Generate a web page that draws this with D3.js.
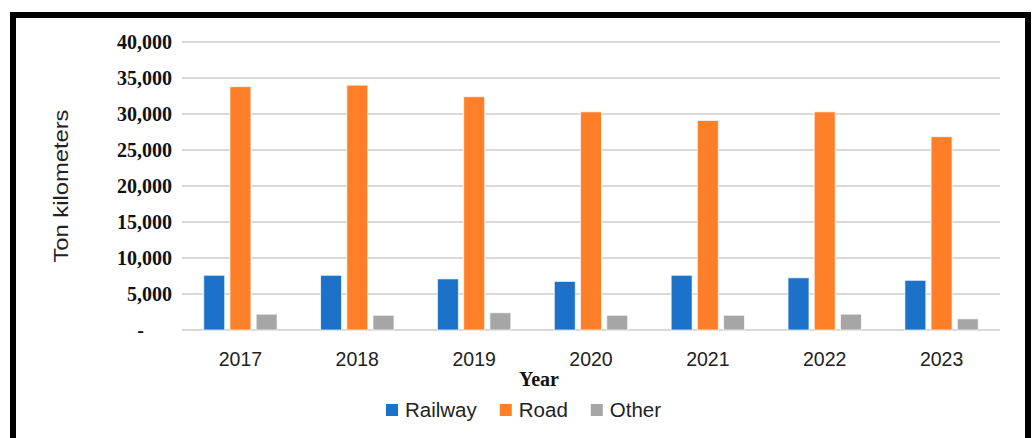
<!DOCTYPE html>
<html>
<head>
<meta charset="utf-8">
<script src="https://cdn.jsdelivr.net/npm/d3@7"></script>
<style>
  html, body { margin: 0; padding: 0; background: #fff; }
  svg { display: block; }
</style>
</head>
<body>
<svg id="chart" width="1033" height="438"></svg>
<script>
// Freight transport volume by mode, ton kilometers
const years   = ["2017", "2018", "2019", "2020", "2021", "2022", "2023"];
const series  = ["Railway", "Road", "Other"];
const railway = [7600, 7600, 7100, 6750, 7600, 7250, 6900];
const road    = [33800, 34000, 32400, 30300, 29100, 30300, 26850];
const other   = [2200, 2050, 2400, 2050, 2050, 2200, 1550];
const yTicks  = [0, 5000, 10000, 15000, 20000, 25000, 30000, 35000, 40000];
const colors  = ["#1b72c8", "#fe7f27", "#a6a6a6"];

const valuesBySeries = { Railway: railway, Road: road, Other: other };

const svg = d3.select("#chart");
const W = 1033, H = 438;
const plot = { left: 182, right: 1000, top: 42, bottom: 330 };

svg.append("rect").attr("width", W).attr("height", H).attr("fill", "#fff");

// heavy black frame around the figure
svg.append("rect")
  .attr("x", 13).attr("y", 15)
  .attr("width", 1015).attr("height", 500)
  .attr("fill", "none").attr("stroke", "#000").attr("stroke-width", 6);

const y = d3.scaleLinear().domain([0, 40000]).range([plot.bottom, plot.top]);

const x0 = d3.scaleBand().domain(years)
  .range([plot.left, plot.right])
  .paddingInner(0.372).paddingOuter(0.186);

const x1 = d3.scaleBand().domain(series)
  .range([0, x0.bandwidth()])
  .paddingInner(0.2);

// horizontal gridlines
svg.append("g").selectAll("line").data(yTicks).join("line")
  .attr("x1", plot.left).attr("x2", plot.right)
  .attr("y1", d => y(d)).attr("y2", d => y(d))
  .attr("stroke", "#d9d9d9").attr("stroke-width", 2);

// y axis labels (accounting style: zero shown as a dash)
const fmt = d3.format(",");
svg.append("g").selectAll("text").data(yTicks).join("text")
  .attr("x", d => d === 0 ? 144 : 172)
  .attr("y", d => y(d) + 6.8)
  .attr("text-anchor", "end")
  .attr("font-family", "'Liberation Serif', 'Times New Roman', serif")
  .attr("font-weight", "bold")
  .attr("font-size", 20)
  .attr("fill", "#111")
  .text(d => d === 0 ? "-" : fmt(d));

// bars
const groups = svg.append("g").selectAll("g").data(years).join("g")
  .attr("transform", d => `translate(${x0(d)},0)`);

groups.selectAll("rect")
  .data((yr, i) => series.map((s, j) => ({ s, j, v: valuesBySeries[s][i] })))
  .join("rect")
  .attr("x", d => x1(d.s))
  .attr("width", x1.bandwidth())
  .attr("y", d => y(d.v))
  .attr("height", d => y(0) - y(d.v))
  .attr("fill", d => colors[d.j])
  .attr("stroke", "#ffffff")
  .attr("stroke-opacity", 0.7)
  .attr("stroke-width", 1);

// x axis labels
svg.append("g").selectAll("text").data(years).join("text")
  .attr("x", d => x0(d) + x0.bandwidth() / 2)
  .attr("y", 365.5)
  .attr("text-anchor", "middle")
  .attr("font-family", "'Liberation Sans', Arial, sans-serif")
  .attr("font-size", 19.5)
  .attr("fill", "#222")
  .text(d => d);

// axis titles
svg.append("text")
  .attr("x", 539).attr("y", 386)
  .attr("text-anchor", "middle")
  .attr("font-family", "'Liberation Serif', 'Times New Roman', serif")
  .attr("font-weight", "bold")
  .attr("font-size", 20)
  .attr("fill", "#111")
  .text("Year");

svg.append("text")
  .attr("transform", "translate(68,186) rotate(-90)")
  .attr("text-anchor", "middle")
  .attr("font-family", "'Liberation Sans', Arial, sans-serif")
  .attr("font-size", 20.5)
  .attr("textLength", 153)
  .attr("lengthAdjust", "spacingAndGlyphs")
  .attr("fill", "#222")
  .text("Ton kilometers");

// legend
const legend = svg.append("g");
let lx = 386;
series.forEach((s, j) => {
  const item = legend.append("g").attr("transform", `translate(${lx},0)`);
  item.append("rect")
    .attr("x", 0).attr("y", 404)
    .attr("width", 12).attr("height", 12)
    .attr("fill", colors[j]);
  const t = item.append("text")
    .attr("x", 19).attr("y", 417)
    .attr("font-family", "'Liberation Sans', Arial, sans-serif")
    .attr("font-size", 20.5)
    .attr("fill", "#222")
    .text(s);
  lx += 19 + t.node().getComputedTextLength() + 23;
});
</script>
</body>
</html>
